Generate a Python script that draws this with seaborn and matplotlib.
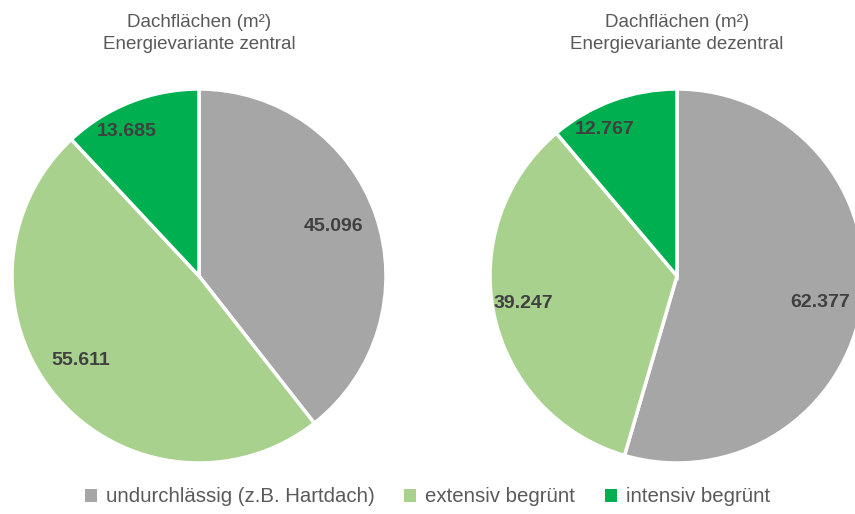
import math
import matplotlib
matplotlib.use("Agg")
import matplotlib.pyplot as plt
import matplotlib.patches as mpatches
import seaborn as sns

# Roof areas in m² per energy variant
categories = ["undurchlässig (z.B. Hartdach)", "extensiv begrünt", "intensiv begrünt"]
zentral_values = [45096, 55611, 13685]
dezentral_values = [62377, 39247, 12767]
titles = ["Dachflächen (m²)\nEnergievariante zentral",
          "Dachflächen (m²)\nEnergievariante dezentral"]

sns.set_theme(style="white")
plt.rcParams["font.family"] = ["Liberation Sans", "DejaVu Sans"]

colors = sns.color_palette(["#A6A6A6", "#A9D18E", "#00B050"])
label_color = "#404040"
title_color = "#595959"


def de_format(v):
    return f"{v:,.0f}".replace(",", ".")


fig = plt.figure(figsize=(8.55, 5.14), dpi=100)
fig.patch.set_facecolor("white")

W, H = 855, 514
R = 187
centers = [(199, 276), (677, 276)]
# radial distance and clockwise angular nudge (degrees) of each value label
label_dist = [[0.766, 0.78, 0.866], [0.78, 0.837, 0.875]]
label_turn = [[-1.0, 5.0, -5.0], [2.5, 2.0, -6.0]]

for values, (cx, cy), title, dists, turns in zip(
        [zentral_values, dezentral_values], centers, titles, label_dist, label_turn):
    ax = fig.add_axes([(cx - R) / W, (H - cy - R) / H, 2 * R / W, 2 * R / H])
    total = sum(values)
    wedges, _, autotexts = ax.pie(
        values,
        colors=colors,
        startangle=90,
        counterclock=False,
        radius=1,
        autopct=lambda p, t=total: de_format(round(p * t / 100)),
        pctdistance=0.78,
        wedgeprops=dict(edgecolor="white", linewidth=2.5),
        textprops=dict(color=label_color, fontsize=14, fontweight="bold"),
    )
    for txt, d, turn in zip(autotexts, dists, turns):
        x, y = txt.get_position()
        s = d / 0.78
        a = math.radians(turn)
        xr = x * math.cos(a) + y * math.sin(a)
        yr = -x * math.sin(a) + y * math.cos(a)
        txt.set_position((xr * s, yr * s))
    ax.set_xlim(-1, 1)
    ax.set_ylim(-1, 1)
    ax.set_aspect("equal")
    ax.axis("off")

    line1, line2 = title.split("\n")
    fig.text(cx / W, 1 - 27 / H, line1, ha="center", va="baseline",
             fontsize=13.5, color=title_color)
    fig.text(cx / W, 1 - 49 / H, line2, ha="center", va="baseline",
             fontsize=13.5, color=title_color)

handles = [mpatches.Patch(facecolor=c, edgecolor="none", label=l)
           for c, l in zip(colors, categories)]
fig.legend(handles=handles, loc="center", bbox_to_anchor=(0.5, 1 - 497 / H),
           ncol=3, frameon=False, fontsize=14.7, handlelength=0.58,
           handleheight=0.58, handletextpad=0.45, columnspacing=1.45,
           labelcolor=title_color)

fig.savefig("out.png", dpi=100, facecolor="white")
